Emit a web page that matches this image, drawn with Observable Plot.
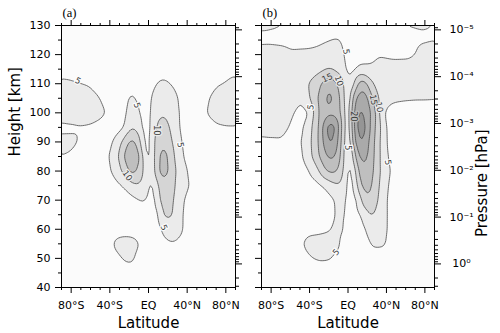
<!DOCTYPE html>
<html><head><meta charset="utf-8">
<script src="https://cdn.jsdelivr.net/npm/d3@7"></script>
<script src="https://cdn.jsdelivr.net/npm/@observablehq/plot@0.6"></script>
<style>
body{margin:0;background:#fff;}
#wrap{position:relative;width:500px;height:333px;}
#wrap > div{position:absolute;top:0;}
</style></head>
<body><div id="wrap"><div id="pa" style="left:0"></div><div id="pb" style="left:250px"></div></div>
<script>
// grid: latitude columns, height rows (km)
const latitudes = [-90,-80,-70,-60,-50,-45,-40,-35,-30,-25,-20,-15,-10,-5,0,5,10,15,20,25,30,35,40,45,50,60,70,80,90];
const heights = [130,125,120,115,110,105,100,95,90,85,80,75,70,65,60,55,50,45,40];

// panel (a) values
const fieldA = [
[2,2,2,2,2,2,2,2,2,2,2,2,2,2,2, 2,2,2,2,2,2,2,2,2,2,2,2,2,2],
[2,2,2,2,2,2,2,2,2,2,2,2,2,2,2, 2,2,2,2,2,2,2,2,2,2,2,2,2,2],
[3.5,3,2.5,2,2,2,2,2,2,2,2,2,2,2,2, 2,2,2,2,2,2,2,2,2,2,2.5,2.8,3.2,3.5],
[4.3,4.1,3.6,3,2.5,2.3,2,2,2,2.5,3.5,3,2.5,2,2, 2,3,3.5,3,2.5,2,2,2,2,2,2.5,3,4,4.3],
[5.4,5.3,5.0,4.6,3.8,3,2.5,2.2,2.5,3,3.8,3.5,2.8,2.2,2, 4.2,5.4,5.8,5.4,4.6,4,3,2.5,2.2,2.5,3.5,4.7,5.2,5.8],
[7,7,7,6,5.0,4.3,3.2,2.5,2.5,3.5,5.6,5.4,4.2,2.5,3, 6.5,7.5,8,7.5,6.5,5.3,3.5,2.5,2.2,2.5,4.6,6,6.5,6.8],
[6.5,7,7,6.5,5.8,5.2,4.2,3,2.5,4.0,6.5,7.5,5.5,3.0,3, 7.5,9,9.6,9.2,7.5,5.6,4,2.5,2.2,2.5,5.1,6.2,6.8,6.5],
[4.2,4.4,4.7,4.6,4,3.5,3,3,3.8,4.5,9,9.8,7.5,3.5,2.5, 8.5,11,12,11,8.5,6,3.8,2.5,2.2,2.2,3.5,4.6,4.8,4.8],
[5.9,5.7,4.6,3.5,3,2.5,4.0,5.8,8.5,12,16,16.2,12.5,4.8,2.5, 9.5,13,14,13,9.5,7,4.7,3,2.2,2,2.5,3,3,3],
[5.0,4.6,3.5,3,2,3.5,5.2,8,10.5,15.5,19.5,19.5,16.5,8.5,2, 9,14.5,17,15.5,11,8,5.5,3.5,2,2,2,2,2,2],
[3,3,2.5,2,2,3,4.5,6.5,9,11.5,16,16.5,13.5,10,3.5, 8,15,17.5,15.8,12,9,7,5.2,3,2,2,2,2,2],
[2,2,2,2,2,2,2.5,3.5,4.5,5.5,7.5,9,9.5,8,4.8, 3.5,10.5,13.5,13,11,9,7.5,5.8,4,2.5,2,2,2,2],
[2,2,2,2,2,2,2,2,2,2.5,3,4,4.8,5.5,4.2, 2.5,8.5,12.5,12.5,10.5,8,6,3.5,2.5,2,2,2,2,2],
[2,2,2,2,2,2,2,2,2,2,2,2,2.5,3,2.5, 2,4.5,10.8,11,10.2,8,5.2,3,2,2,2,2,2,2],
[2,2,2,2,2,2,2,2,2.5,2.5,2.5,2.5,2,2,2, 2,3,6,8,8,7.5,5.5,2.5,2,2,2,2,2,2],
[2,2,2,2,2,2,3,6,7,7.5,7.5,7,5.3,3,2, 2,2,3,4.3,4.6,4.2,3,2,2,2,2,2,2,2],
[2,2,2,2,2,2,2,3,4.5,5.5,6,5.5,3,2,2, 2,2,2,2,2,2,2,2,2,2,2,2,2,2],
[2,2,2,2,2,2,2,2.5,2.8,3,3,2.8,2,2,2, 2,2,2,2,2,2,2,2,2,2,2,2,2,2],
[2,2,2,2,2,2,2,2,2,2,2,2,2,2,2, 2,2,2,2,2,2,2,2,2,2,2,2,2,2]
];

// panel (b) values
const fieldB = [
[5.3,5.2,5.1,4.9,4.5,4,3.5,3,3,3,3,3,3,2.5,2, 2,2,2,2,2,2,2.5,4.5,4.8,5.05,5.1,5.1,5.1,5.0],
[4.5,4.5,4.4,4.2,4.2,4.2,4.3,4.4,4.5,4.7,4.9,5.2,5.3,4.6,2.5, 2.5,2.5,2.5,2.5,2.8,3,3.3,3.5,3.5,3.5,4,4.6,4.8,4.9],
[6,6.2,6,5.4,5.5,5.5,5.5,5.6,5.8,6.2,6.5,6.8,6.8,6,2.5, 2.5,3,3,3.2,3.5,4.8,4.7,4.6,4.4,4.3,4.3,5.0,5.8,6],
[6.5,6.8,7,7,7,7.2,7.5,8,8.7,9.5,10.3,9.5,8.5,7.5,3, 3.5,5.5,6.2,6,6,6.5,6.3,6.2,6.2,6.3,6.5,6.5,6.8,7],
[7,7.2,7.3,7.2,7.5,8.5,10.5,12,14,16.5,19.5,17,14,11.5,3.5, 8,15,19,15,10.5,8.5,7.5,7,6.8,6.8,6.8,6.8,6.8,6.8],
[7,7,7,6.5,5.4,5.5,10.2,13,16,18.5,22.5,19.5,16.5,12,3.5, 16,22,23.5,21,15.5,11.5,8,6.5,5.8,5.5,5.3,5.2,5.2,5.1],
[6.2,6.5,6.5,5.5,4.2,4.0,4.5,11,15.5,18.5,18.5,18.5,17,12.5,3.5, 19,25.3,26,23,19,14,6.5,4,3.5,3.5,3.5,3.5,3.5,3.5],
[5.8,6,5.8,4.8,3.8,5.2,8.5,11.5,15.3,22,28,27.5,21,12.5,3.8, 18,26.5,28.5,23.5,18,13.5,9,4.5,3,3,3,3,3,3],
[4.5,4.6,4.8,4.3,4.4,6,9,12,15.5,21,25.8,25.5,19.5,12,3.8, 16,24,26,21.5,17,13,8.5,5,3,3,3,3,3,3],
[3,3,3,3,3.8,5.8,8.5,11.5,14.8,18.5,21,21,17.5,11.5,3, 9,19.5,22,20.5,16.5,13,8.5,5.8,3.5,2.5,2.5,2.5,2.5,2.5],
[2.5,2.5,2.5,2.5,2.5,3.5,5.0,7.5,9.8,14,16,16,14.5,10.5,3, 4.5,14,19.5,19.5,16,12.5,9,6.5,4.8,2.5,2.5,2.5,2.5,2.5],
[2.5,2.5,2.5,2.5,2.5,2.5,2.5,3,4.2,5.3,7,8.5,9.5,8.5,3, 3.2,10.5,16.5,17.5,15,11.5,8.5,6,3.5,2.5,2.5,2.5,2.5,2.5],
[2.5,2.5,2.5,2.5,2.5,2.5,2.5,2.5,2.5,2.5,3.5,4.5,6.5,7,3, 2.5,5.5,11,15.2,13.5,10.5,8,5.3,3,2.5,2.5,2.5,2.5,2.5],
[2.5,2.5,2.5,2.5,2.5,2.5,2.5,2.5,2.5,2.5,3,4.5,6.2,6.2,2.8, 2,4.5,5.1,9.5,10.5,9.2,7.5,5.5,3,2.5,2.5,2.5,2.5,2.5],
[2.5,2.5,2.5,2.5,3,3.5,3.8,4,4.2,4.4,4.6,5.5,6.8,5.3,2.5, 2,2.5,3.5,5.8,7.5,7.5,7,5.6,3,2.5,2.5,2.5,2.5,2.5],
[2.5,2.5,2.5,2.5,3.5,6,6.5,6.5,6.5,6.5,6.8,7,6,3,2, 2,2,2.5,3.8,5.6,5.7,5.6,5.2,3,2.5,2.5,2.5,2.5,2.5],
[2.5,2.5,2.5,2.5,2.5,3.5,4.7,5.1,5.5,5.4,5.3,4.8,3,2.5,2, 2,2,2,2.5,3,3,3,3,2.5,2.5,2.5,2.5,2.5,2.5],
[2.5,2.5,2.5,2.5,2.5,3,3,3,3,3,3,3,2.5,2.5,2, 2,2,2,2,2,2,2,2,2,2,2,2,2,2],
[2,2,2,2,2,2,2,2,2,2,2,2,2,2,2, 2,2,2,2,2,2,2,2,2,2,2,2,2,2]
];

const levels = [5,10,15,20,25];
const levelColors = ["#ebebeb","#d5d5d5","#bfbfbf","#aaaaaa","#959595"];
const background = "#fbfbfb";

const latTicks = [-80,-40,0,40,80];
const latTickLabels = ["80°S","40°S","EQ","40°N","80°N"];
const latMinor = [-90,-70,-60,-50,-30,-20,-10,10,20,30,50,60,70,90];
const heightTicks = [40,50,60,70,80,90,100,110,120,130];
const heightMinor = [45,55,65,75,85,95,105,115,125];
const pressureTicks = [1e-5,1e-4,1e-3,1e-2,1e-1,1];
const pressureTickLabels = ["10⁻⁵","10⁻⁴","10⁻³","10⁻²","10⁻¹","10⁰"];

// contour labels (lat, height, text, angle)
const labelsA = [
  {lat:-73, h:111, t:"5", r:28},
  {lat:-12, h:102.6, t:"5", r:70},
  {lat:-22, h:78.4, t:"10", r:55},
  {lat:9, h:94, t:"10", r:90},
  {lat:33, h:89, t:"5", r:80},
  {lat:16, h:60.6, t:"5", r:65}
];
const labelsB = [
  {lat:-2, h:121, t:"5", r:80},
  {lat:-21.5, h:112, t:"15", r:-25},
  {lat:-9.5, h:111, t:"10", r:70},
  {lat:-38.7, h:102, t:"5", r:-80},
  {lat:26.5, h:104.5, t:"15", r:80},
  {lat:32.5, h:102, t:"10", r:80},
  {lat:6, h:98.8, t:"20", r:90},
  {lat:0, h:88, t:"5", r:90},
  {lat:41.5, h:83, t:"5", r:80},
  {lat:-12.4, h:52.1, t:"5", r:-50}
];

// pressure (hPa) -> height (km) used for the right axis
const pToH = p => 128.5 - 16.08 * (Math.log10(p) + 5);
const pressureMinor = [];
for (let k = -6; k <= 0; k++) for (let m = 2; m <= 9; m++) {
  const h = pToH(m * Math.pow(10, k));
  if (h >= 40 && h <= 130) pressureMinor.push(h);
}

const toPoints = field => field.flatMap((row, i) => row.map((v, j) => ({lat: latitudes[j], h: heights[i], v})));
const blank = () => "";
const font = "DejaVu Sans, sans-serif";

function panel(field, labels, tag, left) {
  const marks = [
    Plot.frame({fill: background, stroke: null}),
    Plot.contour(toPoints(field), {x: "lat", y: "h", fill: "v", thresholds: levels,
      interpolate: "barycentric", blur: 1, stroke: "#4a4a4a", strokeWidth: 0.8}),
  ];
  levels.forEach((lv, i) => {
    const sub = labels.filter(d => d.t === String(lv));
    if (sub.length) marks.push(Plot.text(sub, {x: "lat", y: "h", text: "t", rotate: "r", fontSize: 8.5,
      fill: "#3a3a3a", stroke: i === 0 ? background : levelColors[i - 1], strokeWidth: 2.5, paintOrder: "stroke"}));
  });
  marks.push(
    Plot.frame({stroke: "#000", strokeWidth: 1}),
    Plot.axisX(latTicks, {anchor: "bottom", tickSize: 6, tickPadding: 8, fontSize: 11, label: null,
      tickFormat: d => latTickLabels[latTicks.indexOf(d)]}),
    Plot.axisX(latMinor, {anchor: "bottom", tickSize: 3, tickFormat: blank, label: null}),
    Plot.axisX(latTicks, {anchor: "top", tickSize: 6, tickFormat: blank, label: null}),
    Plot.axisX(latMinor, {anchor: "top", tickSize: 3, tickFormat: blank, label: null}),
    Plot.text(["Latitude"], {text: d => d, frameAnchor: "bottom", lineAnchor: "middle", dy: 36, fontSize: 15, fill: "#000"}),
    Plot.text([tag], {text: d => d, frameAnchor: "top-left", lineAnchor: "middle", textAnchor: "start", dx: 1, dy: -13,
      fontSize: 12.5, fontFamily: "Liberation Serif, serif", fill: "#000"})
  );
  if (left) {
    marks.push(
      Plot.axisY(heightTicks, {anchor: "left", tickSize: 6, tickPadding: 5, fontSize: 11, label: null}),
      Plot.axisY(heightMinor, {anchor: "left", tickSize: 3, tickFormat: blank, label: null}),
      Plot.axisY(pressureTicks.map(pToH), {anchor: "right", tickSize: 6, tickFormat: blank, label: null}),
      Plot.axisY(pressureMinor, {anchor: "right", tickSize: 3, tickFormat: blank, label: null}),
      Plot.text(["Height [km]"], {text: d => d, frameAnchor: "left", lineAnchor: "middle", dx: -46, rotate: -90, fontSize: 15, fill: "#000"})
    );
  } else {
    marks.push(
      Plot.axisY(heightTicks, {anchor: "left", tickSize: 6, tickFormat: blank, label: null}),
      Plot.axisY(heightMinor, {anchor: "left", tickSize: 3, tickFormat: blank, label: null}),
      Plot.axisY(pressureTicks.map(pToH), {anchor: "right", tickSize: 6, tickPadding: 21, textAnchor: "middle",
        fontSize: 11, label: null, tickFormat: d => pressureTickLabels[pressureTicks.map(pToH).indexOf(d)]}),
      Plot.axisY(pressureMinor, {anchor: "right", tickSize: 3, tickFormat: blank, label: null}),
      Plot.text(["Pressure [hPa]"], {text: d => d, frameAnchor: "right", lineAnchor: "middle", dx: 48, dy: -27, rotate: -90, fontSize: 15, fill: "#000"})
    );
  }
  return Plot.plot({
    width: 250, height: 333,
    marginLeft: left ? 61 : 11, marginRight: left ? 15 : 66, marginTop: 25, marginBottom: 46,
    x: {domain: [-90, 90]},
    y: {domain: [40, 130]},
    color: {type: "ordinal", domain: levels, range: levelColors},
    style: {fontFamily: font, fontSize: "11px", background: "transparent", color: "#000"},
    marks
  });
}

document.getElementById("pa").appendChild(panel(fieldA, labelsA, "(a)", true));
document.getElementById("pb").appendChild(panel(fieldB, labelsB, "(b)", false));
</script>
</body></html>
